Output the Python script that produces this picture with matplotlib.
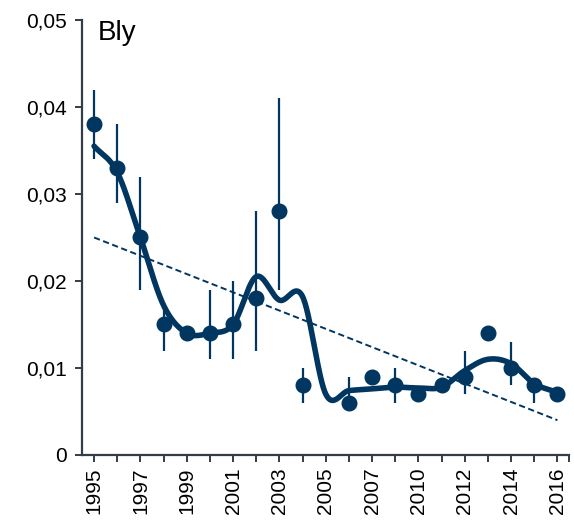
import numpy as np
import matplotlib
matplotlib.use("Agg")
import matplotlib.pyplot as plt

plt.rcParams['font.family'] = ['Liberation Sans', 'DejaVu Sans']

# Annual lead concentrations
years = ["1995", "1996", "1997", "1998", "1999", "2000", "2001", "2002", "2003",
         "2004", "2005", "2006", "2007", "2008", "2010", "2011", "2012", "2013",
         "2014", "2015", "2016"]
values = [0.038, 0.033, 0.025, 0.015, 0.014, 0.014, 0.015, 0.018, 0.028,
          0.008, np.nan, 0.006, 0.009, 0.008, 0.007, 0.008, 0.009, 0.014,
          0.010, 0.008, 0.007]
lower = [0.034, 0.029, 0.019, 0.012, np.nan, 0.011, 0.011, 0.012, 0.019,
         0.006, np.nan, 0.0055, np.nan, 0.006, np.nan, np.nan, 0.007, np.nan,
         0.008, 0.006, np.nan]
upper = [0.042, 0.038, 0.032, 0.0175, np.nan, 0.019, 0.020, 0.028, 0.041,
         0.010, np.nan, 0.009, np.nan, 0.010, np.nan, np.nan, 0.012, np.nan,
         0.013, 0.0085, np.nan]
# Smoothed trend per year
smooth = [0.0355, 0.0325, 0.025, 0.0172, 0.014, 0.014, 0.015, 0.0205, 0.0178,
          0.0182, 0.0070, 0.0074, 0.0076, 0.0078, 0.0077, 0.0078, 0.0097, 0.0110,
          0.0105, 0.0082, 0.0072]
# Linear trend, first and last year
trend = [0.025, 0.004]

y_ticks = [0, 0.01, 0.02, 0.03, 0.04, 0.05]
y_tick_labels = ["0", "0,01", "0,02", "0,03", "0,04", "0,05"]

color = "#00365f"
axis_color = "#333d47"


def catmull_rom(x, y, n=30):
    x = np.asarray(x, float)
    y = np.asarray(y, float)
    px = np.concatenate([[2 * x[0] - x[1]], x, [2 * x[-1] - x[-2]]])
    py = np.concatenate([[2 * y[0] - y[1]], y, [2 * y[-1] - y[-2]]])
    xs, ys = [], []
    t = np.linspace(0, 1, n, endpoint=False)
    for i in range(1, len(px) - 2):
        p0, p1, p2, p3 = py[i - 1], py[i], py[i + 1], py[i + 2]
        q0, q1, q2, q3 = px[i - 1], px[i], px[i + 1], px[i + 2]
        ys.append(0.5 * ((2 * p1) + (-p0 + p2) * t + (2 * p0 - 5 * p1 + 4 * p2 - p3) * t ** 2
                         + (-p0 + 3 * p1 - 3 * p2 + p3) * t ** 3))
        xs.append(0.5 * ((2 * q1) + (-q0 + q2) * t + (2 * q0 - 5 * q1 + 4 * q2 - q3) * t ** 2
                         + (-q0 + 3 * q1 - 3 * q2 + q3) * t ** 3))
    xs.append([x[-1]])
    ys.append([y[-1]])
    return np.concatenate(xs), np.concatenate(ys)


fig = plt.figure(figsize=(5.74, 5.22), dpi=100)
ax = fig.add_axes([0.1437, 0.1284, 0.8476, 0.8333])

pos = np.arange(len(years))
vals = np.array(values, float)
lo = np.array(lower, float)
hi = np.array(upper, float)

has_err = ~np.isnan(lo)
ax.vlines(pos[has_err], lo[has_err], hi[has_err], color=color, lw=1.6, zorder=2)

ax.plot([pos[0], pos[-1]], trend, color=color, lw=1.4,
        linestyle=(0, (3.2, 1.8)), zorder=3)

sx, sy = catmull_rom(pos, smooth)
ax.plot(sx, sy, color=color, lw=4.0, solid_capstyle='round', zorder=4)

ok = ~np.isnan(vals)
ax.plot(pos[ok], vals[ok], 'o', color=color, ms=10.5, zorder=5)

ax.set_xlim(-0.5, 20.5)
ax.set_ylim(0, 0.05)

ax.set_yticks(y_ticks)
ax.set_yticklabels(y_tick_labels, fontsize=15)

tick_pos = list(pos) + [20.5]
ax.set_xticks(tick_pos)
ax.set_xticklabels([y if i % 2 == 0 else "" for i, y in enumerate(years)] + [""],
                   rotation=90, fontsize=15)

for side in ("top", "right"):
    ax.spines[side].set_visible(False)
for side in ("left", "bottom"):
    ax.spines[side].set_color(axis_color)
    ax.spines[side].set_linewidth(1.6)
ax.tick_params(axis='both', direction='out', length=5, width=1.4,
               color=axis_color, labelcolor='black')
ax.tick_params(axis='x', pad=4)
ax.tick_params(axis='y', pad=6)

ax.text(0.032, 1.0, "Bly", transform=ax.transAxes, fontsize=20,
        ha='left', va='top')

fig.savefig("out.png", dpi=100)
